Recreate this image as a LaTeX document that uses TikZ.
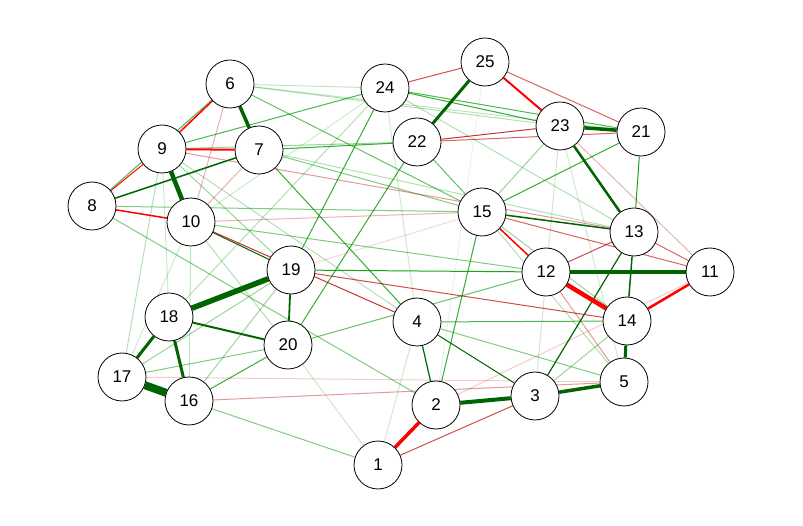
\documentclass[tikz,border=0pt]{standalone}
\usepackage{fontspec}
\setmainfont{Liberation Sans}
\usetikzlibrary{backgrounds}
\definecolor{posstrong}{HTML}{006400}
\definecolor{posweak}{HTML}{009900}
\definecolor{negstrong}{HTML}{FF0000}
\definecolor{negweak}{HTML}{BF0000}
\tikzset{
  vertex/.style={circle, draw=black, line width=0.8pt, fill=white, minimum size=48pt, inner sep=0pt, font=\fontsize{17}{20}\selectfont},
  posedge/.style={draw=posstrong, line width=#1},
  negedge/.style={draw=negstrong, line width=#1},
  poslight/.style={draw=posweak, line width=1pt, draw opacity=#1},
  neglight/.style={draw=negweak, line width=1pt, draw opacity=#1},
}
\begin{document}
\begin{tikzpicture}[x=1pt,y=1pt,yscale=-1,xscale=1]
\useasboundingbox (0,0) rectangle (803,526);
\node[vertex] (n1) at (378,465) {1};
\node[vertex] (n2) at (436,405) {2};
\node[vertex] (n3) at (535,396) {3};
\node[vertex] (n4) at (417,322) {4};
\node[vertex] (n5) at (624,382) {5};
\node[vertex] (n6) at (230,84) {6};
\node[vertex] (n7) at (259,150) {7};
\node[vertex] (n8) at (92,206) {8};
\node[vertex] (n9) at (162,149) {9};
\node[vertex] (n10) at (191,222) {10};
\node[vertex] (n11) at (710,272) {11};
\node[vertex] (n12) at (546,272) {12};
\node[vertex] (n13) at (634,232) {13};
\node[vertex] (n14) at (627,321) {14};
\node[vertex] (n15) at (482,212) {15};
\node[vertex] (n16) at (189,401) {16};
\node[vertex] (n17) at (122,377) {17};
\node[vertex] (n18) at (169,317) {18};
\node[vertex] (n19) at (291,270) {19};
\node[vertex] (n20) at (288,345) {20};
\node[vertex] (n21) at (641,132) {21};
\node[vertex] (n22) at (417,142) {22};
\node[vertex] (n23) at (560,126) {23};
\node[vertex] (n24) at (385,88) {24};
\node[vertex] (n25) at (485,62) {25};
\begin{pgfonlayer}{background}
\fill[white] (0,0) rectangle (803,526);
% weak positive
\draw[poslight=0.9] (n21) -- (n13);
\draw[poslight=0.8] (n21) -- (n15);
\draw[poslight=0.9] (n19) -- (n12);
\draw[poslight=0.7] (n4) -- (n14);
\draw[poslight=0.8] (n7) -- (n4);
\draw[poslight=0.8] (n24) -- (n19);
\draw[poslight=0.8] (n22) -- (n20);
\draw[poslight=0.8] (n15) -- (n2);
\draw[poslight=0.8] (n24) -- (n23);
\draw[poslight=0.7] (n24) -- (n21);
\draw[poslight=0.7] (n9) -- (n24);
\draw[poslight=0.8] (n7) -- (n22);
\draw[poslight=0.4] (n9) -- (n22);
\draw[poslight=0.7] (n6) -- (n8);
\draw[poslight=0.5] (n8) -- (n15);
\draw[poslight=0.5] (n8) -- (n2);
\draw[poslight=0.6] (n6) -- (n15);
\draw[poslight=0.3] (n6) -- (n23);
\draw[poslight=0.25] (n6) -- (n24);
\draw[poslight=0.25] (n6) -- (n21);
\draw[poslight=0.6] (n22) -- (n15);
\draw[poslight=0.8] (n16) -- (n20);
\draw[poslight=0.5] (n17) -- (n20);
\draw[poslight=0.4] (n17) -- (n19);
\draw[poslight=0.4] (n16) -- (n19);
\draw[poslight=0.5] (n16) -- (n1);
\draw[poslight=0.5] (n4) -- (n5);
\draw[poslight=0.6] (n20) -- (n12);
\draw[poslight=0.5] (n10) -- (n12);
\draw[poslight=0.4] (n14) -- (n3);
\draw[poslight=0.5] (n7) -- (n15);
\draw[poslight=0.3] (n7) -- (n13);
\draw[poslight=0.4] (n9) -- (n19);
\draw[poslight=0.3] (n9) -- (n4);
\draw[poslight=0.3] (n24) -- (n13);
\draw[poslight=0.3] (n24) -- (n18);
\draw[poslight=0.4] (n23) -- (n15);
\draw[poslight=0.4] (n15) -- (n14);
\draw[poslight=0.3] (n15) -- (n5);
\draw[poslight=0.2] (n3) -- (n23);
\draw[poslight=0.2] (n5) -- (n23);
\draw[poslight=0.2] (n1) -- (n4);
\draw[poslight=0.2] (n1) -- (n20);
\draw[poslight=0.2] (n24) -- (n4);
\draw[poslight=0.3] (n17) -- (n9);
\draw[poslight=0.2] (n18) -- (n9);
\draw[poslight=0.2] (n10) -- (n24);
\draw[poslight=0.1] (n25) -- (n2);
\draw[poslight=0.25] (n10) -- (n16);
\draw[poslight=0.2] (n10) -- (n17);
\draw[poslight=0.3] (n10) -- (n20);
% weak negative
\draw[neglight=0.7] (n24) -- (n25);
\draw[neglight=0.6] (n25) -- (n21);
\draw[neglight=0.8] (n22) -- (n23);
\draw[neglight=0.6] (n22) -- (n21);
\draw[neglight=0.7] (n1) -- (n3);
\draw[neglight=0.7] (n19) -- (n14);
\draw[neglight=0.8] (n10) -- (n4);
\draw[neglight=0.6] (n15) -- (n11);
\draw[neglight=0.7] (n13) -- (n12);
\draw[neglight=0.6] (n13) -- (n11);
\draw[neglight=0.3] (n23) -- (n11);
\draw[neglight=0.4] (n9) -- (n13);
\draw[neglight=0.3] (n10) -- (n15);
\draw[neglight=0.3] (n6) -- (n10);
\draw[neglight=0.3] (n7) -- (n10);
\draw[neglight=0.15] (n19) -- (n15);
\draw[neglight=0.4] (n12) -- (n5);
\draw[neglight=0.4] (n16) -- (n5);
\draw[neglight=0.2] (n17) -- (n5);
\draw[neglight=0.2] (n11) -- (n2);
% strong positive
\draw[posedge=8pt] (n17) -- (n16);
\draw[posedge=5.5pt] (n18) -- (n19);
\draw[posedge=4.5pt] (n12) -- (n11);
\draw[posedge=4.5pt] (n9) -- (n10);
\draw[posedge=4pt] (n2) -- (n3);
\draw[posedge=3.5pt] (n3) -- (n5);
\draw[posedge=3.5pt] (n6) -- (n7);
\draw[posedge=3.5pt] (n23) -- (n21);
\draw[posedge=3pt] (n25) -- (n22);
\draw[posedge=3pt] (n18) -- (n17);
\draw[posedge=3pt] (n18) -- (n16);
\draw[posedge=3pt] (n14) -- (n5);
\draw[posedge=2.5pt] (n23) -- (n13);
\draw[posedge=2pt] (n18) -- (n20);
\draw[posedge=1.8pt] (n19) -- (n20);
\draw[posedge=1.5pt] (n8) -- (n7);
\draw[posedge=1.5pt] (n15) -- (n13);
\draw[posedge=1.5pt] (n13) -- (n14);
\draw[posedge=1.2pt] (n3) -- (n13);
\draw[posedge=1.2pt] (n4) -- (n2);
\draw[posedge=1pt] (n4) -- (n3);
\draw[posedge=1pt] (n10) -- (n19);
% strong negative
\draw[negedge=4.5pt] (n12) -- (n14);
\draw[negedge=3.5pt] (n1) -- (n2);
\draw[negedge=2.5pt] (n11) -- (n14);
\draw[negedge=2pt] (n25) -- (n23);
\draw[negedge=2pt] (n9) -- (n7);
\draw[negedge=1.5pt] (n9) -- (n6);
\draw[negedge=1.5pt] (n8) -- (n10);
\draw[negedge=1.5pt] (n15) -- (n12);
\draw[negedge=1pt] (n8) -- (n9);
\end{pgfonlayer}
\end{tikzpicture}
\end{document}
